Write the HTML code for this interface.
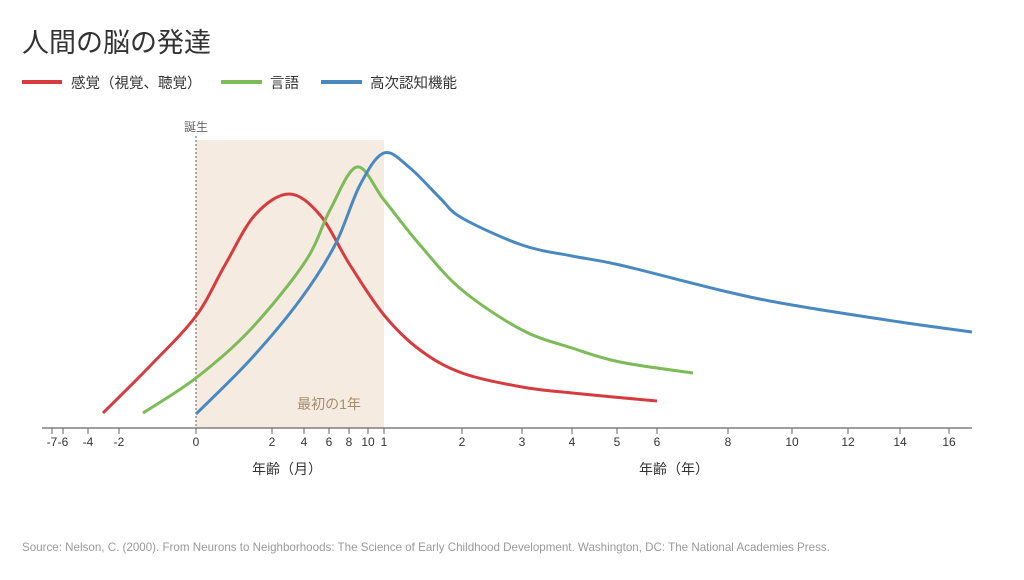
<!DOCTYPE html>
<html><head><meta charset="utf-8"><style>
body{margin:0;background:#fff;}
svg text{font-family:"Liberation Sans","Noto Sans CJK JP",sans-serif;}
</style></head><body>
<svg id="s" width="1024" height="575" viewBox="0 0 1024 575" xmlns="http://www.w3.org/2000/svg">
<text x="22" y="52" font-size="27" fill="#333">人間の脳の発達</text>
<line x1="22" y1="82" x2="62" y2="82" stroke="#d63c3f" stroke-width="4"/>
<text x="71" y="88" font-size="14.5" fill="#333">感覚（視覚、聴覚）</text>
<line x1="221" y1="82" x2="262" y2="82" stroke="#7dba58" stroke-width="4"/>
<text x="270" y="88" font-size="14.5" fill="#333">言語</text>
<line x1="321" y1="82" x2="362" y2="82" stroke="#4a89bf" stroke-width="4"/>
<text x="370" y="88" font-size="14.5" fill="#333">高次認知機能</text>
<rect x="196" y="140" width="188" height="288" fill="#f5ebe1"/>
<line x1="196" y1="136" x2="196" y2="428" stroke="#777" stroke-width="1.2" stroke-dasharray="2,2"/>
<text x="196" y="131" font-size="12" fill="#666" text-anchor="middle">誕生</text>
<text x="329" y="409" font-size="14" fill="#a58d6c" text-anchor="middle">最初の1年</text>
<path id="r" fill="none" stroke="#d63c3f" stroke-width="3"/>
<path id="g" fill="none" stroke="#7dba58" stroke-width="3"/>
<path id="b" fill="none" stroke="#4a89bf" stroke-width="3"/>
<line x1="42" y1="428" x2="972" y2="428" stroke="#666" stroke-width="1.2"/>
<g id="ticks" font-size="12" fill="#333" text-anchor="middle"></g>
<text x="287" y="474" font-size="14" fill="#333" text-anchor="middle">年齢（月）</text>
<text x="674" y="474" font-size="14" fill="#333" text-anchor="middle">年齢（年）</text>
<text x="22" y="551" font-size="11.6" fill="#999">Source: Nelson, C. (2000). From Neurons to Neighborhoods: The Science of Early Childhood Development. Washington, DC: The National Academies Press.</text>
</svg>
<script>
function cr(p){let d="M"+p[0][0]+","+p[0][1];for(let i=0;i<p.length-1;i++){const a=p[i-1]||p[i],b=p[i],c=p[i+1],e=p[i+2]||c;
d+=" C"+(b[0]+(c[0]-a[0])/6)+","+(b[1]+(c[1]-a[1])/6)+" "+(c[0]-(e[0]-b[0])/6)+","+(c[1]-(e[1]-b[1])/6)+" "+c[0]+","+c[1];}return d;}
document.getElementById("r").setAttribute("d",cr([[103,413],[150,366],[196,316],[225,265],[255,215],[289,194],[320,215],[350,265],[384,315],[420,350],[462,373],[522,387],[572,393],[657,401]]));
document.getElementById("g").setAttribute("d",cr([[143,413],[196,378],[250,330],[305,262],[330,210],[357,167],[384,200],[420,245],[462,290],[522,330],[572,348],[620,362],[693,373]]));
document.getElementById("b").setAttribute("d",cr([[196,414],[250,360],[300,300],[335,245],[360,185],[384,153],[410,168],[440,198],[462,218],[522,245],[572,256],[620,265],[728,292],[792,305],[900,322],[972,332]]));
const t=[[52,"-7"],[63,"-6"],[88,"-4"],[119,"-2"],[196,"0"],[272,"2"],[304,"4"],[329,"6"],[349,"8"],[368,"10"],[384,"1"],[462,"2"],[522,"3"],[572,"4"],[617,"5"],[657,"6"],[728,"8"],[792,"10"],[848,"12"],[900,"14"],[949,"16"]];
let h="";for(const [x,l] of t){h+=`<line x1="${x}" y1="428" x2="${x}" y2="434" stroke="#666"/><text x="${x}" y="446">${l}</text>`;}
document.getElementById("ticks").innerHTML=h;
</script>
</body></html>
